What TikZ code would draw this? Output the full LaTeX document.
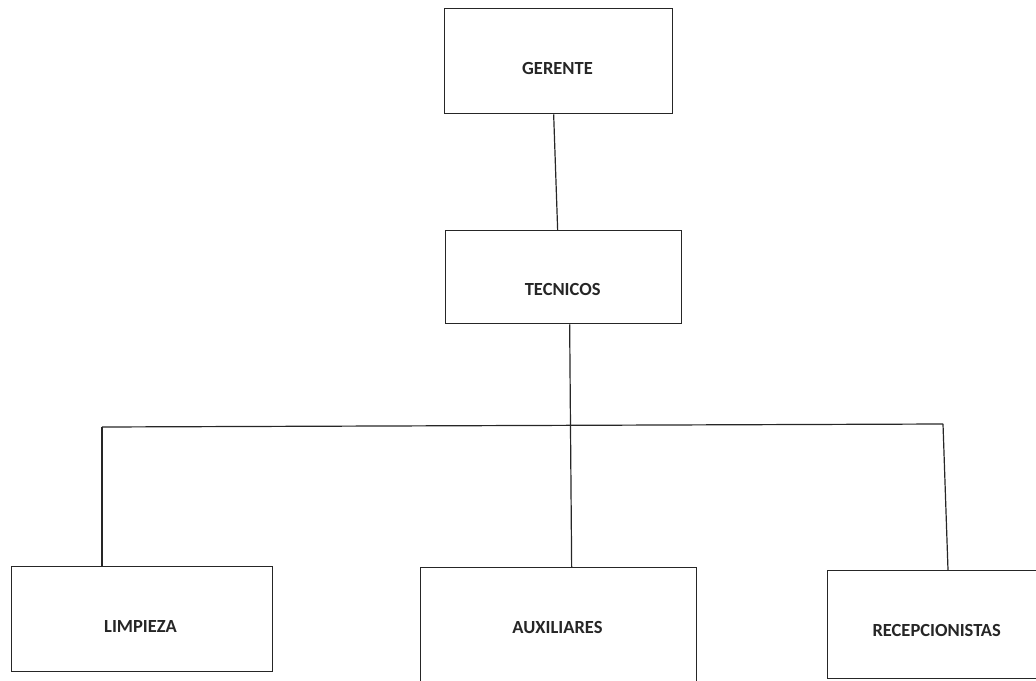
\documentclass[tikz,border=0pt]{standalone}
\usepackage{fontspec}
\setmainfont{Carlito}
\begin{document}
\begin{tikzpicture}[x=1pt,y=-1pt,
  box/.style={draw=black!85,line width=1.3pt,rectangle,inner sep=0pt,anchor=north west},
  lbl/.style={font=\bfseries\fontsize{18.5}{20}\selectfont,text=black!85,inner sep=0pt,anchor=center},
  conn/.style={draw=black!85,line width=1.2pt}]
\useasboundingbox (0,0) rectangle (1036,680);
% boxes
\node[box,minimum width=228pt,minimum height=105pt] (g) at (444,8) {};
\node[box,minimum width=236pt,minimum height=93pt] (t) at (445,230) {};
\node[box,minimum width=261pt,minimum height=105pt] (l) at (11,566) {};
\node[box,minimum width=276pt,minimum height=140pt] (a) at (420,567) {};
\node[box,minimum width=220pt,minimum height=108pt] (r) at (827,570) {};
% labels
\node[lbl] (gt) at (557.5,68.5) {GERENTE};
\node[lbl] (tt) at (562.7,289.5) {TECNICOS};
\node[lbl] (lt) at (140.5,626) {LIMPIEZA};
\node[lbl] (at) at (557.5,627.5) {AUXILIARES};
\node[lbl] (rt) at (936.7,630) {RECEPCIONISTAS};
% junction points
\coordinate (hl) at (102,427);
\coordinate (hr) at (943,424);
% connectors
\draw[conn] ([xshift=-5pt]g.south) -- ([xshift=-6pt]t.north);
\draw[conn] ([xshift=6pt]t.south) -- ([xshift=13pt]a.north);
\draw[conn] (hl) -- (hr);
\draw[conn] (hl) -- (l.north west -| hl);
\draw[conn] (hr) -- ([xshift=5pt]r.north west -| hr);
\end{tikzpicture}
\end{document}
